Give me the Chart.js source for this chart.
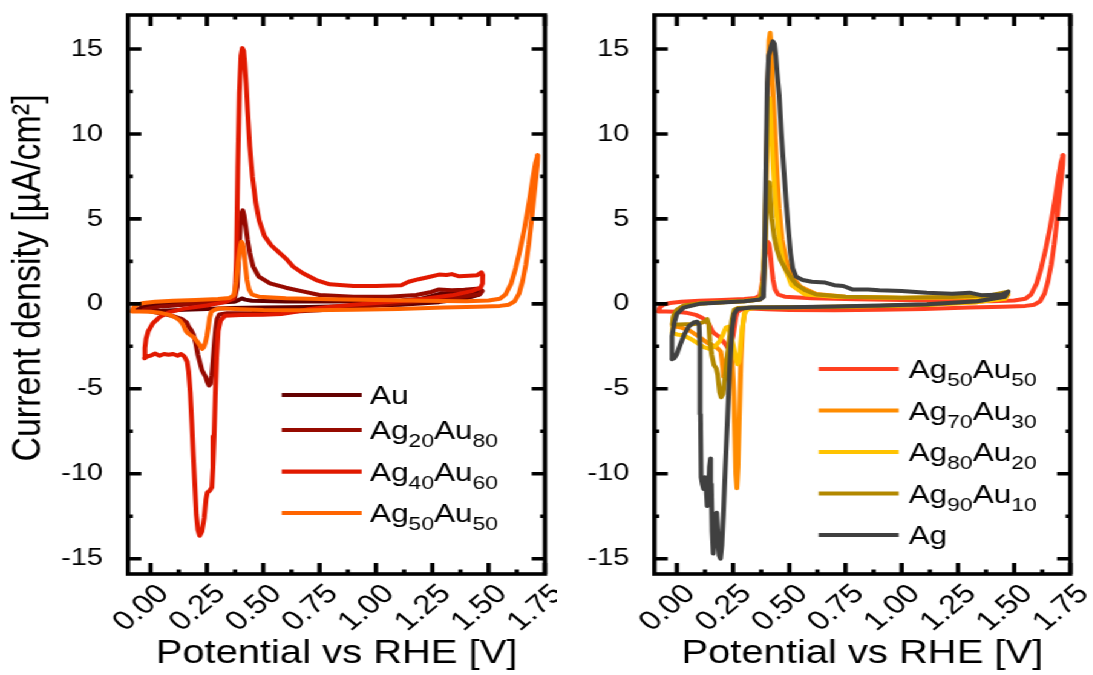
<!DOCTYPE html>
<html>
<head>
<meta charset="utf-8">
<script src="https://cdn.jsdelivr.net/npm/chart.js@4.4.1/dist/chart.umd.min.js"></script>
<style>
  html, body { margin: 0; padding: 0; background: #fff; width: 1093px; height: 675px; overflow: hidden; }
  #fig { position: absolute; left: 0; top: 0; width: 903px; height: 675px; transform: scaleX(1.21); transform-origin: 0 0; }
  #fig canvas { position: absolute; top: 0; }
</style>
</head>
<body>
<div id="fig">
  <canvas id="cvLeft" width="460" height="675" style="left:0"></canvas>
  <canvas id="cvRight" width="466" height="675" style="left:434.7px"></canvas>
</div>
<script>
// ---- axis ticks ----
const xTickValues = [0, 0.25, 0.5, 0.75, 1.0, 1.25, 1.5, 1.75];
const yTickValues = [-15, -10, -5, 0, 5, 10, 15];

// ---- cyclic voltammograms: [potential vs RHE (V), current density (µA/cm²)] ----
const au = [
  [-0.06,-0.35],[-0.04,-0.2],[0.0,-0.08],[0.1,0.0],[0.2,0.04],[0.3,0.08],[0.37,0.12],[0.39,0.22],[0.405,0.32],
  [0.42,0.25],[0.45,0.18],[0.6,0.14],[0.8,0.14],[1.0,0.16],[1.112,0.2],[1.201,0.3],[1.246,0.45],[1.291,0.62],
  [1.336,0.58],[1.403,0.62],[1.47,0.78],[1.459,0.55],[1.392,0.3],[1.28,0.1],[1.112,-0.05],[0.9,-0.12],[0.7,-0.18],
  [0.5,-0.22],[0.35,-0.25],[0.25,-0.3],[0.15,-0.35],[0.05,-0.4],[-0.03,-0.42],[-0.06,-0.35]
];
const ag20au80 = [
  [-0.03,-0.35],[0.0,-0.25],[0.05,-0.15],[0.15,-0.05],[0.25,0.08],[0.33,0.2],[0.372,0.28],[0.384,1.0],[0.391,2.8],
  [0.398,4.5],[0.404,5.35],[0.409,5.5],[0.415,5.2],[0.422,4.6],[0.43,3.8],[0.44,3.0],[0.455,2.2],[0.48,1.6],
  [0.53,1.2],[0.6,0.95],[0.68,0.72],[0.75,0.52],[0.9,0.42],[1.056,0.42],[1.179,0.52],[1.246,0.7],[1.28,0.85],
  [1.336,0.8],[1.392,0.83],[1.459,0.9],[1.472,0.75],[1.459,0.55],[1.38,0.42],[1.224,0.2],[1.056,-0.03],[0.9,-0.22],
  [0.75,-0.38],[0.6,-0.48],[0.45,-0.54],[0.34,-0.55],[0.305,-0.62],[0.295,-0.9],[0.289,-1.5],[0.284,-2.2],
  [0.278,-3.2],[0.272,-4.2],[0.265,-4.72],[0.259,-4.8],[0.252,-4.6],[0.245,-4.3],[0.238,-4.15],[0.228,-3.9],
  [0.218,-3.4],[0.21,-3.0],[0.2,-2.3],[0.19,-1.8],[0.178,-1.5],[0.17,-1.38],[0.16,-1.1],[0.14,-0.9],[0.1,-0.72],
  [0.06,-0.6],[0.02,-0.5],[-0.01,-0.42],[-0.03,-0.35]
];
const ag40au60 = [
  [-0.027,-3.2],[-0.025,-2.6],[-0.02,-2.05],[-0.01,-1.6],[0.01,-1.15],[0.04,-0.78],[0.08,-0.5],[0.15,-0.28],
  [0.25,-0.1],[0.33,0.1],[0.365,0.3],[0.375,0.7],[0.381,2.7],[0.387,8.0],[0.394,12.4],[0.401,14.6],[0.407,15.05],
  [0.413,14.9],[0.418,14.2],[0.424,13.0],[0.431,11.3],[0.44,9.3],[0.452,7.5],[0.466,6.0],[0.482,4.9],[0.505,4.0],
  [0.535,3.45],[0.572,3.0],[0.602,2.65],[0.632,2.2],[0.676,1.8],[0.735,1.4],[0.795,1.15],[0.9,1.05],[1.0,1.05],
  [1.112,1.1],[1.145,1.3],[1.19,1.45],[1.235,1.58],[1.28,1.72],[1.313,1.7],[1.336,1.75],[1.369,1.62],[1.414,1.65],
  [1.448,1.68],[1.468,1.85],[1.474,1.7],[1.473,1.2],[1.464,0.95],[1.425,0.75],[1.336,0.5],[1.224,0.32],[1.112,0.17],
  [1.0,0.05],[0.9,-0.06],[0.8,-0.17],[0.7,-0.32],[0.63,-0.5],[0.58,-0.6],[0.5,-0.64],[0.4,-0.66],[0.33,-0.7],
  [0.31,-1.0],[0.3,-1.6],[0.293,-3.2],[0.287,-5.5],[0.282,-7.8],[0.277,-9.6],[0.272,-10.8],[0.262,-11.0],
  [0.252,-11.1],[0.246,-11.5],[0.238,-12.6],[0.228,-13.4],[0.218,-13.65],[0.21,-13.3],[0.203,-12.4],[0.197,-10.8],
  [0.19,-9.0],[0.183,-7.0],[0.176,-5.2],[0.169,-4.0],[0.162,-3.4],[0.15,-3.1],[0.135,-2.95],[0.12,-3.05],
  [0.1,-2.95],[0.08,-3.0],[0.06,-2.95],[0.04,-3.05],[0.02,-2.92],[0.0,-3.05],[-0.015,-3.1],[-0.027,-3.2]
];
const ag50au50 = [
  [-0.082,-0.45],[-0.075,-0.2],[-0.06,-0.05],[-0.03,0.05],[0.02,0.12],[0.1,0.18],[0.2,0.22],[0.3,0.28],
  [0.35,0.35],[0.37,0.5],[0.38,1.3],[0.388,2.4],[0.396,3.2],[0.403,3.65],[0.409,3.55],[0.415,3.0],[0.421,2.2],
  [0.428,1.4],[0.437,0.85],[0.45,0.55],[0.48,0.42],[0.6,0.33],[0.8,0.27],[1.0,0.22],[1.2,0.18],[1.4,0.15],
  [1.5,0.2],[1.55,0.3],[1.575,0.55],[1.6,1.2],[1.62,2.1],[1.64,3.2],[1.66,4.5],[1.68,6.0],[1.695,7.3],
  [1.708,8.3],[1.718,8.75],[1.716,8.2],[1.71,7.4],[1.7,6.2],[1.69,4.9],[1.678,3.5],[1.665,2.3],[1.65,1.3],
  [1.635,0.6],[1.615,0.15],[1.59,-0.05],[1.55,-0.12],[1.45,-0.17],[1.3,-0.22],[1.1,-0.3],[0.9,-0.35],[0.7,-0.37],
  [0.5,-0.36],[0.4,-0.32],[0.33,-0.28],[0.3,-0.28],[0.28,-0.38],[0.269,-0.48],[0.262,-0.8],[0.257,-1.3],
  [0.25,-1.9],[0.243,-2.3],[0.236,-2.55],[0.229,-2.65],[0.222,-2.5],[0.214,-2.35],[0.203,-2.15],[0.19,-1.95],
  [0.175,-1.82],[0.165,-1.72],[0.157,-1.6],[0.15,-1.4],[0.143,-1.2],[0.13,-0.98],[0.11,-0.8],[0.084,-0.65],
  [0.04,-0.52],[0.0,-0.46],[-0.05,-0.45],[-0.082,-0.45]
];
const ag70au30 = [
  [-0.02,-1.3],[-0.015,-0.8],[0.0,-0.4],[0.03,-0.12],[0.1,0.02],[0.2,0.1],[0.3,0.18],[0.37,0.3],[0.385,0.8],
  [0.392,3.0],[0.398,7.5],[0.404,12.5],[0.41,15.5],[0.415,15.95],[0.419,15.3],[0.424,13.6],[0.43,11.8],
  [0.437,10.0],[0.445,7.8],[0.455,5.6],[0.468,3.8],[0.485,2.6],[0.51,1.65],[0.55,1.0],[0.62,0.58],[0.75,0.42],
  [1.0,0.35],[1.28,0.38],[1.448,0.45],[1.473,0.55],[1.459,0.3],[1.336,0.1],[1.112,-0.05],[0.9,-0.12],[0.7,-0.18],
  [0.5,-0.22],[0.35,-0.25],[0.315,-0.3],[0.302,-0.5],[0.293,-1.3],[0.285,-3.3],[0.278,-6.6],[0.272,-9.6],
  [0.267,-10.85],[0.262,-10.0],[0.258,-7.8],[0.253,-5.1],[0.248,-3.7],[0.241,-2.8],[0.232,-2.6],[0.222,-3.2],
  [0.214,-4.2],[0.208,-4.3],[0.202,-3.5],[0.195,-2.8],[0.18,-2.6],[0.16,-2.45],[0.137,-2.3],[0.1,-1.95],
  [0.06,-1.6],[0.02,-1.4],[-0.02,-1.3]
];
const ag80au20 = [
  [-0.02,-1.7],[-0.018,-1.2],[-0.01,-0.6],[0.02,-0.2],[0.1,0.02],[0.2,0.1],[0.3,0.15],[0.37,0.25],[0.385,1.5],
  [0.393,5.0],[0.4,9.0],[0.406,11.5],[0.412,12.1],[0.417,11.0],[0.422,9.6],[0.43,7.6],[0.44,5.8],[0.455,3.8],
  [0.475,2.3],[0.51,1.1],[0.57,0.55],[0.7,0.42],[1.0,0.36],[1.336,0.4],[1.473,0.6],[1.459,0.3],[1.336,0.1],
  [1.112,-0.05],[0.9,-0.12],[0.7,-0.17],[0.5,-0.2],[0.35,-0.22],[0.315,-0.3],[0.3,-0.6],[0.29,-1.5],[0.282,-2.7],
  [0.276,-3.4],[0.27,-3.55],[0.262,-3.2],[0.252,-2.5],[0.24,-1.8],[0.228,-1.35],[0.218,-1.4],[0.205,-1.8],
  [0.19,-2.2],[0.17,-2.5],[0.145,-2.65],[0.12,-2.55],[0.09,-2.3],[0.06,-2.05],[0.03,-1.85],[0.0,-1.8],[-0.02,-1.7]
];
const ag90au10 = [
  [-0.02,-1.2],[-0.015,-0.7],[0.0,-0.35],[0.03,-0.1],[0.1,0.02],[0.2,0.1],[0.3,0.15],[0.37,0.25],[0.385,1.2],
  [0.393,3.5],[0.4,5.8],[0.406,7.0],[0.411,7.15],[0.416,6.2],[0.422,5.0],[0.432,4.0],[0.445,3.2],[0.46,2.6],
  [0.485,2.0],[0.51,1.5],[0.53,1.15],[0.57,0.8],[0.62,0.55],[0.75,0.42],[1.0,0.36],[1.224,0.4],[1.392,0.5],
  [1.473,0.72],[1.459,0.45],[1.336,0.15],[1.112,-0.05],[0.9,-0.12],[0.7,-0.17],[0.5,-0.2],[0.33,-0.22],[0.27,-0.25],
  [0.255,-0.35],[0.245,-0.9],[0.235,-1.9],[0.225,-3.0],[0.215,-4.3],[0.205,-5.3],[0.197,-5.5],[0.19,-5.2],
  [0.182,-4.2],[0.175,-3.8],[0.165,-3.6],[0.155,-3.0],[0.147,-2.2],[0.142,-1.2],[0.135,-0.9],[0.125,-1.05],
  [0.1,-1.15],[0.07,-1.2],[0.04,-1.2],[0.01,-1.22],[-0.02,-1.2]
];
const ag = [
  [-0.022,-3.25],[-0.023,-2.6],[-0.02,-1.9],[-0.012,-1.15],[0.0,-0.6],[0.03,-0.22],[0.1,0.0],[0.2,0.08],
  [0.3,0.15],[0.37,0.25],[0.385,0.4],[0.39,2.7],[0.396,8.0],[0.402,13.0],[0.408,14.6],[0.414,14.85],[0.42,15.2],
  [0.427,15.45],[0.434,15.3],[0.44,14.6],[0.446,13.6],[0.455,12.3],[0.465,10.0],[0.475,8.0],[0.485,6.2],
  [0.495,4.5],[0.505,3.0],[0.515,2.1],[0.53,1.6],[0.56,1.4],[0.6,1.3],[0.66,1.25],[0.7,1.1],[0.74,1.05],
  [0.78,0.85],[0.85,0.85],[0.9,0.8],[1.0,0.75],[1.112,0.65],[1.224,0.6],[1.302,0.66],[1.358,0.5],[1.448,0.55],
  [1.473,0.72],[1.459,0.42],[1.336,0.15],[1.112,-0.02],[0.9,-0.1],[0.7,-0.16],[0.5,-0.2],[0.33,-0.22],[0.27,-0.3],
  [0.255,-0.6],[0.245,-1.5],[0.235,-3.8],[0.225,-6.8],[0.215,-9.8],[0.207,-12.4],[0.2,-14.2],[0.194,-15.0],
  [0.188,-14.8],[0.182,-13.6],[0.177,-12.3],[0.172,-12.4],[0.167,-13.9],[0.162,-14.7],[0.157,-13.4],
  [0.153,-10.6],[0.15,-9.1],[0.145,-9.6],[0.14,-11.4],[0.135,-11.9],[0.13,-10.8],[0.125,-10.2],[0.119,-10.9],
  [0.113,-10.6],[0.108,-10.2],[0.105,-6.5],[0.103,-2.5],[0.099,-1.25],[0.09,-1.05],[0.075,-1.1],[0.055,-1.3],
  [0.035,-1.75],[0.015,-2.4],[0.0,-2.95],[-0.012,-3.2],[-0.022,-3.25]
];

// ---- series names and colours for each panel ----
const leftNames = ['Au', 'Ag20Au80', 'Ag40Au60', 'Ag50Au50'];
const leftCurves = [au, ag20au80, ag40au60, ag50au50];
const leftColors = ['#640000', '#960a00', '#e11900', '#ff6400'];

const rightNames = ['Ag50Au50', 'Ag70Au30', 'Ag80Au20', 'Ag90Au10', 'Ag'];
const rightCurves = [ag50au50, ag70au30, ag80au20, ag90au10, ag];
const rightColors = ['#ff4020', '#ff8c00', '#ffc300', '#b28800', '#404040'];

const FONT = '"Liberation Sans", Arial, Helvetica, sans-serif';
Chart.defaults.font.family = FONT;
Chart.defaults.color = '#000';

// Closed frame with inward major/minor ticks on all four sides.
const framePlugin = {
  id: 'frame',
  afterDatasetsDraw(chart) {
    const { ctx, chartArea: a, scales: { x, y } } = chart;
    const mids = v => v.slice(1).map((t, i) => (t + v[i]) / 2);
    ctx.save();
    ctx.strokeStyle = '#000';
    ctx.lineWidth = 3.6;
    ctx.lineCap = 'butt';
    ctx.beginPath();
    const xt = (vals, len) => vals.forEach(v => {
      const p = x.getPixelForValue(v);
      ctx.moveTo(p, a.bottom); ctx.lineTo(p, a.bottom - len);
      ctx.moveTo(p, a.top); ctx.lineTo(p, a.top + len);
    });
    const yt = (vals, len) => vals.forEach(v => {
      const p = y.getPixelForValue(v);
      ctx.moveTo(a.left, p); ctx.lineTo(a.left + len, p);
      ctx.moveTo(a.right, p); ctx.lineTo(a.right - len, p);
    });
    xt(xTickValues, 11); xt(mids(xTickValues), 4.5);
    yt(yTickValues, 11); yt(mids(yTickValues), 4);
    ctx.stroke();
    ctx.strokeRect(a.left, a.top, a.right - a.left, a.bottom - a.top);
    ctx.restore();
  }
};

// Vertical axis title, placed beside the tick labels.
const yTitlePlugin = {
  id: 'yTitle',
  afterDraw(chart, args, opts) {
    if (!opts.text) return;
    const { ctx } = chart;
    ctx.save();
    ctx.translate(opts.x, opts.y);
    ctx.rotate(-Math.PI / 2);
    ctx.font = opts.size + 'px ' + FONT;
    ctx.fillStyle = '#000';
    ctx.textAlign = 'center';
    ctx.textBaseline = 'middle';
    ctx.fillText(opts.text, 0, 0);
    ctx.restore();
  }
};

// Legend with subscripted composition numbers.
const subLegendPlugin = {
  id: 'subLegend',
  afterDraw(chart, args, opts) {
    const { ctx } = chart;
    ctx.save();
    chart.data.datasets.forEach((ds, i) => {
      const yRow = opts.rows[i];
      ctx.strokeStyle = ds.borderColor;
      ctx.lineWidth = 4.2;
      ctx.lineCap = 'butt';
      ctx.beginPath();
      ctx.moveTo(opts.x0, yRow); ctx.lineTo(opts.x1, yRow);
      ctx.stroke();
      ctx.fillStyle = '#000';
      ctx.textBaseline = 'alphabetic';
      ctx.textAlign = 'left';
      let tx = opts.xt;
      ds.label.split(/(\d+)/).forEach((part, k) => {
        if (!part) return;
        const sub = k % 2 === 1;
        ctx.font = (sub ? opts.subSize : opts.size) + 'px ' + FONT;
        ctx.fillText(part, tx, yRow + opts.base + (sub ? opts.subDrop : 0));
        tx += ctx.measureText(part).width;
      });
    });
    ctx.restore();
  }
};

function makeChart(canvasId, names, curves, colors, rightPad, yTitleOpts, legendOpts) {
  const n = names.length;
  const datasets = names.map((name, i) => ({
    label: name,
    data: curves[i].map(([e, j]) => ({ x: e, y: j })),
    borderColor: colors[i],
    backgroundColor: colors[i],
    borderWidth: 4,
    pointRadius: 0,
    pointHoverRadius: 0,
    showLine: true,
    fill: false,
    tension: 0,
    borderJoinStyle: 'round',
    borderCapStyle: 'round',
    order: n - i
  }));
  return new Chart(document.getElementById(canvasId), {
    type: 'scatter',
    data: { datasets },
    plugins: [framePlugin, yTitlePlugin, subLegendPlugin],
    options: {
      responsive: false,
      animation: false,
      devicePixelRatio: 1,
      layout: { padding: { top: 15, right: rightPad, bottom: 0, left: 0 } },
      plugins: {
        legend: { display: false },
        tooltip: { enabled: false },
        yTitle: yTitleOpts,
        subLegend: legendOpts
      },
      scales: {
        x: {
          type: 'linear',
          min: -0.1,
          max: 1.75,
          grid: { display: false },
          border: { display: false },
          afterBuildTicks: s => { s.ticks = xTickValues.map(v => ({ value: v })); },
          afterFit: s => { s.height = 101; s.paddingLeft = 0; s.paddingRight = 0; },
          ticks: {
            autoSkip: false,
            minRotation: 45,
            maxRotation: 45,
            padding: -3.9,
            labelOffset: 11,
            font: { size: 27 },
            callback: v => Number(v).toFixed(2)
          },
          title: {
            display: true,
            text: 'Potential vs RHE [V]',
            font: { size: 33 },
            padding: { top: 0, bottom: 1.5 }
          }
        },
        y: {
          type: 'linear',
          min: -15.9,
          max: 17,
          grid: { display: false },
          border: { display: false },
          afterBuildTicks: s => { s.ticks = yTickValues.map(v => ({ value: v })); },
          afterFit: s => { s.width = 105.8; s.paddingTop = 0; s.paddingBottom = 0; },
          ticks: {
            padding: 12.7,
            font: { size: 24 },
            callback: v => String(v)
          },
          title: { display: false }
        }
      }
    }
  });
}

makeChart('cvLeft', leftNames, leftCurves, leftColors, 9.6,
  { text: 'Current density [µA/cm²]', x: 23.6, y: 278, size: 34 },
  { x0: 232.8, x1: 298.9, xt: 305.8, rows: [395, 430, 471.6, 513], size: 26, subSize: 19, base: 9.3, subDrop: 8 });
makeChart('cvRight', rightNames, rightCurves, rightColors, 16.4,
  { text: '' },
  { x0: 241.6, x1: 307.7, xt: 316.0, rows: [369, 410.5, 452, 493.5, 535], size: 26, subSize: 19, base: 9.3, subDrop: 8 });
</script>
</body>
</html>
